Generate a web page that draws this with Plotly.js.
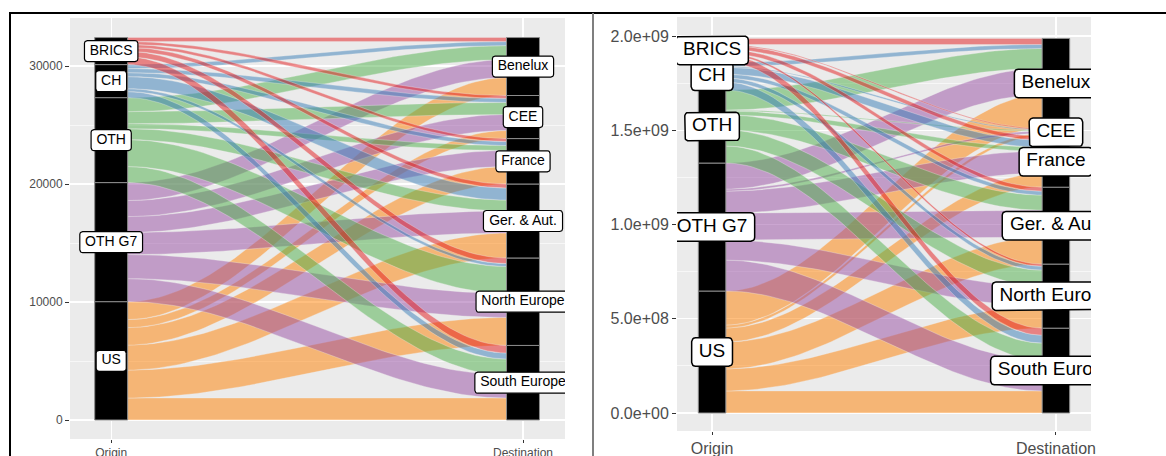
<!DOCTYPE html>
<html>
<head>
<meta charset="utf-8">
<script src="https://cdn.plot.ly/plotly-3.0.1.min.js"></script>
<style>
  html, body { margin: 0; padding: 0; background: #ffffff; }
  #chart { width: 1166px; height: 456px; }
</style>
</head>
<body>
<div id="chart"></div>
<script>
// Strata, bottom to top
const origins = ["US", "OTH G7", "OTH", "CH", "BRICS"];
const destinations = ["South Europe", "North Europe", "Ger. & Aut.", "France", "CEE", "Benelux"];
const axisLabels = ["Origin", "Destination"];
const originColors = ["#FF7F00", "#984EA3", "#4DAF4A", "#377EB8", "#E41A1C"];

// Left panel: flows from each origin, in the order of `destinations`
const countUS    = [1860, 2370, 2120, 1480,  680, 1520];
const countOTHG7 = [1950, 2040, 1860, 1360, 1360, 1520];
const countOTH   = [1360, 2280,  930,  420, 1020, 1190];
const countCH    = [ 510,  250, 1020,  340,  340,  340];
const countBRICS = [ 640,  470,  340,  250,  250,  340];

// Right panel: flows from each origin, in the order of `destinations`
const valueUS    = [1.17e8, 1.17e8, 1.43e8, 7.4e7, 1.6e7, 1.80e8];
const valueOTHG7 = [1.64e8, 1.06e8, 1.43e8, 1.17e8, 1.1e7, 1.38e8];
const valueOTH   = [9.0e7, 8.5e7, 8.0e7, 2.1e7, 5e6, 1.06e8];
const valueCH    = [4.2e7, 2.1e7, 2.1e7, 3.7e7, 5e6, 2.1e7];
const valueBRICS = [3.7e7, 1.1e7, 2.1e7, 2.1e7, 5e6, 3.2e7];

const leftTicks = [0, 10000, 20000, 30000];
const leftTickText = ["0", "10000", "20000", "30000"];
const leftMinor = [5000, 15000, 25000];
const rightTicks = [0, 5e8, 1e9, 1.5e9, 2e9];
const rightTickText = ["0.0e+00", "5.0e+08", "1.0e+09", "1.5e+09", "2.0e+09"];
const rightMinor = [2.5e8, 7.5e8, 1.25e9, 1.75e9];

const W = 1166, H = 456;
const stratumWidth = 0.08;
const FONT = '"Liberation Sans", Arial, sans-serif';

function rgba(hex, a) {
  const n = parseInt(hex.slice(1), 16);
  return `rgba(${(n >> 16) & 255},${(n >> 8) & 255},${n & 255},${a})`;
}
const sum = arr => arr.reduce((a, b) => a + b, 0);

const ctx = document.createElement('canvas').getContext('2d');
function textWidth(s, size) {
  ctx.font = size + 'px ' + FONT;
  return ctx.measureText(s).width;
}

// Panel geometry in page pixels: plotting area box
const panels = [
  { rows: [countUS, countOTHG7, countOTH, countCH, countBRICS],
    xa: 'x', ya: 'y', px: [70, 565], py: [18, 439],
    xRange: [0.9, 2.102], yRange: [-1610, 34068],
    labelSize: 14, tickSize: 12, borderW: 1.2 },
  { rows: [valueUS, valueOTHG7, valueOTH, valueCH, valueBRICS],
    xa: 'x2', ya: 'y2', px: [677, 1091], py: [17, 431],
    xRange: [0.898, 2.102], yRange: [-0.0955e9, 2.1008e9],
    labelSize: 19, tickSize: 16, borderW: 1.5 }
];

function smooth(t) { return t * t * (3 - 2 * t); }

function buildPanel(p) {
  const rows = p.rows;
  const oTot = rows.map(sum);
  const dTot = destinations.map((_, d) => sum(rows.map(r => r[d])));
  const oBase = [], dBase = [];
  let acc = 0; oTot.forEach(v => { oBase.push(acc); acc += v; });
  acc = 0; dTot.forEach(v => { dBase.push(acc); acc += v; });

  const half = stratumWidth / 2;
  const xStart = 1 + half, xEnd = 2 - half;
  const N = 60;
  const traces = [];

  // Alluvial flows, with a faint seam along their edges
  rows.forEach((row, o) => {
    row.forEach((v, d) => {
      if (!v) return;
      const y0 = oBase[o] + sum(row.slice(0, d));
      const y1 = dBase[d] + sum(rows.slice(0, o).map(r => r[d]));
      const xs = [], ys = [];
      for (let i = 0; i <= N; i++) {
        const t = i / N;
        xs.push(xStart + (xEnd - xStart) * t);
        ys.push(y0 + v + (y1 - y0) * smooth(t));
      }
      for (let i = N; i >= 0; i--) {
        const t = i / N;
        xs.push(xStart + (xEnd - xStart) * t);
        ys.push(y0 + (y1 - y0) * smooth(t));
      }
      xs.push(xs[0]); ys.push(ys[0]);
      traces.push({
        type: 'scatter', mode: 'lines', x: xs, y: ys, fill: 'toself',
        fillcolor: rgba(originColors[o], 0.5),
        line: { width: 0.6, color: 'rgba(240,240,240,0.55)' },
        xaxis: p.xa, yaxis: p.ya, hoverinfo: 'skip', showlegend: false
      });
    });
  });

  // Strata
  const strata = [];
  origins.forEach((name, i) => strata.push({ c: 1, b: oBase[i], v: oTot[i], name }));
  destinations.forEach((name, i) => strata.push({ c: 2, b: dBase[i], v: dTot[i], name }));
  strata.forEach(s => {
    traces.push({
      type: 'scatter', mode: 'lines',
      x: [s.c - half, s.c + half, s.c + half, s.c - half, s.c - half],
      y: [s.b, s.b, s.b + s.v, s.b + s.v, s.b],
      fill: 'toself', fillcolor: '#000000', line: { color: '#8c8c8c', width: 1 },
      xaxis: p.xa, yaxis: p.ya, hoverinfo: 'skip', showlegend: false
    });
  });

  // Label boxes (rounded rectangles), sized from the measured text
  const dxPx = (p.xRange[1] - p.xRange[0]) / (p.px[1] - p.px[0]);
  const dyPx = (p.yRange[1] - p.yRange[0]) / (p.py[1] - p.py[0]);
  const fs = p.labelSize;
  const labX = [], labY = [], labT = [];
  strata.forEach(s => {
    const cy = s.b + s.v / 2;
    const hw = textWidth(s.name, fs) / 2 + 0.38 * fs;
    const hh = 0.75 * fs;
    const r = 0.2 * fs;
    const xs = [], ys = [];
    const corners = [
      [hw - r, hh - r, 0], [-(hw - r), hh - r, 90],
      [-(hw - r), -(hh - r), 180], [hw - r, -(hh - r), 270]
    ];
    corners.forEach(([cx, cyy, a0]) => {
      for (let k = 0; k <= 6; k++) {
        const a = (a0 + 15 * k) * Math.PI / 180;
        xs.push(s.c + (cx + r * Math.cos(a)) * dxPx);
        ys.push(cy + (cyy + r * Math.sin(a)) * dyPx);
      }
    });
    xs.push(xs[0]); ys.push(ys[0]);
    traces.push({
      type: 'scatter', mode: 'lines', x: xs, y: ys, fill: 'toself',
      fillcolor: '#ffffff', line: { color: '#000000', width: p.borderW },
      xaxis: p.xa, yaxis: p.ya, hoverinfo: 'skip', showlegend: false
    });
    labX.push(s.c); labY.push(cy); labT.push(s.name);
  });
  traces.push({
    type: 'scatter', mode: 'text', x: labX, y: labY, text: labT,
    textposition: 'middle center', cliponaxis: true,
    textfont: { family: FONT, size: fs, color: '#000000' },
    xaxis: p.xa, yaxis: p.ya, hoverinfo: 'skip', showlegend: false
  });
  return traces;
}

const data = panels.flatMap(buildPanel);

function xAxis(p, anchor) {
  return {
    domain: [p.px[0] / W, p.px[1] / W], range: p.xRange, anchor,
    tickmode: 'array', tickvals: [1, 2], ticktext: axisLabels,
    showgrid: true, gridcolor: '#ffffff', gridwidth: 1.2, zeroline: false,
    ticks: 'outside', ticklen: 3, tickwidth: 1, tickcolor: '#333333',
    tickfont: { family: FONT, size: p.tickSize, color: '#4d4d4d' },
    showline: false, fixedrange: true
  };
}
function yAxis(p, anchor, vals, text, minor) {
  return {
    domain: [1 - p.py[1] / H, 1 - p.py[0] / H], range: p.yRange, anchor,
    tickmode: 'array', tickvals: vals, ticktext: text,
    showgrid: true, gridcolor: '#ffffff', gridwidth: 1.2, zeroline: false,
    minor: { tickvals: minor, showgrid: true, gridcolor: '#ffffff', gridwidth: 0.6, ticks: '' },
    ticks: 'outside', ticklen: 4, tickwidth: 1, tickcolor: '#333333',
    tickfont: { family: FONT, size: p.tickSize, color: '#4d4d4d' },
    showline: false, fixedrange: true
  };
}

const topY = 1 - 13 / H;
const layout = {
  width: W, height: H,
  margin: { l: 0, r: 0, t: 0, b: 0 },
  paper_bgcolor: '#ffffff', plot_bgcolor: '#ebebeb',
  showlegend: false,
  xaxis: xAxis(panels[0], 'y'),
  yaxis: yAxis(panels[0], 'x', leftTicks, leftTickText, leftMinor),
  xaxis2: xAxis(panels[1], 'y2'),
  yaxis2: yAxis(panels[1], 'x2', rightTicks, rightTickText, rightMinor),
  shapes: [
    { type: 'line', xref: 'paper', yref: 'paper', x0: 9 / W, x1: 1, y0: topY, y1: topY,
      line: { color: '#000000', width: 2 } },
    { type: 'line', xref: 'paper', yref: 'paper', x0: 10 / W, x1: 10 / W, y0: 0, y1: topY,
      line: { color: '#000000', width: 2 } },
    { type: 'line', xref: 'paper', yref: 'paper', x0: 593 / W, x1: 593 / W, y0: 0, y1: topY,
      line: { color: '#7f7f7f', width: 2 } }
  ]
};

Plotly.newPlot('chart', data, layout, { staticPlot: true, displayModeBar: false });
</script>
</body>
</html>
